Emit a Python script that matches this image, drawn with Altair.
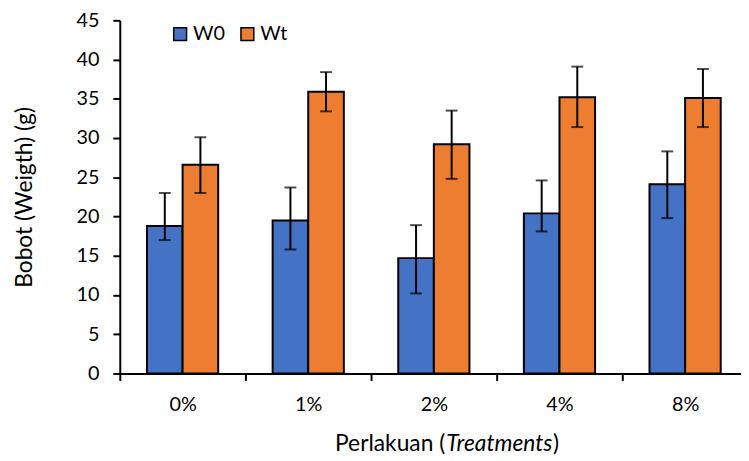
import altair as alt
import pandas as pd

categories = ["0%", "1%", "2%", "4%", "8%"]
series = ["W0", "Wt"]
w0_mean = [18.8, 19.5, 14.7, 20.4, 24.1]
w0_upper = [23.0, 23.7, 18.9, 24.6, 28.3]
w0_lower = [17.0, 15.8, 10.2, 18.1, 19.8]
wt_mean = [26.6, 35.9, 29.2, 35.2, 35.1]
wt_upper = [30.1, 38.4, 33.5, 39.1, 38.8]
wt_lower = [23.0, 33.4, 24.8, 31.4, 31.4]
colors = ["#4472C4", "#ED7D31"]
y_ticks = [0, 5, 10, 15, 20, 25, 30, 35, 40, 45]

rows = []
for i, c in enumerate(categories):
    rows.append({"cat": c, "series": "W0", "value": w0_mean[i], "hi": w0_upper[i], "lo": w0_lower[i]})
    rows.append({"cat": c, "series": "Wt", "value": wt_mean[i], "hi": wt_upper[i], "lo": wt_lower[i]})
df = pd.DataFrame(rows)

FONT = "Lato"
H = 357

xscale = alt.Scale(domain=categories, range=[0, 635], paddingInner=0, paddingOuter=0)
yscale = alt.Scale(domain=[0, 45], nice=False)
xaxis = alt.Axis(title=None, tickBand="extent", labelAngle=0, labelPadding=14)
yaxis = alt.Axis(title="Bobot (Weigth) (g)", values=y_ticks, labelOverlap=False,
                 labelPadding=14, titlePadding=40)
xoff = alt.XOffset("series:N", scale=alt.Scale(domain=series, paddingInner=0, paddingOuter=0.764))
xenc = alt.X("cat:N", scale=xscale, sort=categories, axis=xaxis)

base = alt.Chart(df)

bars = base.mark_bar(stroke="black", strokeWidth=2).encode(
    x=xenc,
    xOffset=xoff,
    y=alt.Y("value:Q", scale=yscale, axis=yaxis),
    color=alt.Color("series:N", scale=alt.Scale(domain=series, range=colors),
                    legend=alt.Legend(title=None, orient="none", legendX=51, legendY=4,
                                      direction="horizontal", symbolType="square",
                                      symbolSize=169, symbolStrokeColor="black",
                                      symbolStrokeWidth=1.5, labelFont=FONT,
                                      labelFontSize=20, labelColor="black",
                                      columnPadding=12, labelOffset=3, padding=0)),
)

rules = base.mark_rule(color="black", strokeWidth=2).encode(
    x=xenc,
    xOffset=xoff,
    y=alt.Y("lo:Q", scale=yscale, axis=yaxis),
    y2="hi:Q",
)
cap_hi = base.mark_tick(color="black", thickness=2, size=12).encode(
    x=xenc, xOffset=xoff, y=alt.Y("hi:Q", scale=yscale, axis=yaxis))
cap_lo = base.mark_tick(color="black", thickness=2, size=12).encode(
    x=xenc, xOffset=xoff, y=alt.Y("lo:Q", scale=yscale, axis=yaxis))

one = pd.DataFrame({"a": [0]})
t1 = alt.Chart(one).mark_text(align="right", baseline="alphabetic", font=FONT, fontSize=23,
                              color="black").encode(
    x=alt.value(329), y=alt.value(435), text=alt.value("Perlakuan ("))
t2 = alt.Chart(one).mark_text(align="left", baseline="alphabetic", font=FONT, fontSize=23,
                              fontStyle="italic", color="black").encode(
    x=alt.value(330), y=alt.value(435), text=alt.value("Treatments"))
t3 = alt.Chart(one).mark_text(align="left", baseline="alphabetic", font=FONT, fontSize=23,
                              color="black").encode(
    x=alt.value(438), y=alt.value(435), text=alt.value(")"))

chart = alt.layer(bars, rules, cap_hi, cap_lo, t1, t2, t3).properties(
    width=628, height=H,
    autosize=alt.AutoSizeParams(type="none"),
    padding={"left": 113, "top": 10, "right": 0, "bottom": 85},
).configure_view(stroke=None).configure_axis(
    domainColor="black", domainWidth=2, tickColor="black", tickWidth=2, tickSize=7,
    labelColor="black", labelFont=FONT, labelFontSize=20, grid=False,
    titleFont=FONT, titleFontSize=23, titleFontWeight="normal", titleColor="black",
)

chart.save("out.html", embed_options={"renderer": "svg", "actions": False})
